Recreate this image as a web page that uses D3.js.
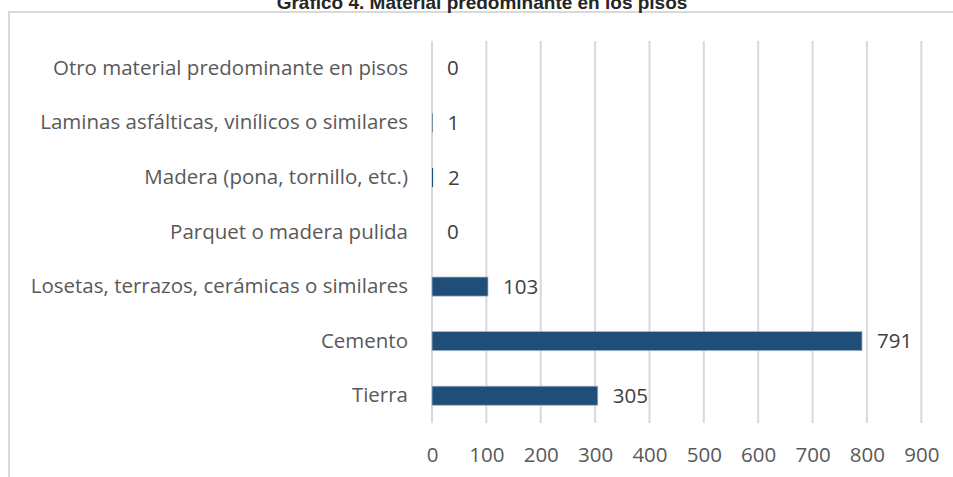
<!DOCTYPE html>
<html>
<head>
<meta charset="utf-8">
<script src="https://cdn.jsdelivr.net/npm/d3@7"></script>
<style>
  body { margin: 0; background: #fff; }
  svg { display: block; }
</style>
</head>
<body>
<div id="chart"></div>
<script>
// data, bottom to top
const categories = [
  "Tierra",
  "Cemento",
  "Losetas, terrazos, cerámicas o similares",
  "Parquet o madera pulida",
  "Madera (pona, tornillo, etc.)",
  "Laminas asfálticas, vinílicos o similares",
  "Otro material predominante en pisos"
];
const values = [305, 791, 103, 0, 2, 1, 0];
const xTicks = [0, 100, 200, 300, 400, 500, 600, 700, 800, 900];
const title = "Gráfico 4. Material predominante en los pisos";

const width = 953, height = 477;
const font = "'Open Sans', sans-serif";
const fs = 20.5;

const svg = d3.select("#chart").append("svg")
    .attr("width", width)
    .attr("height", height);

// chart frame (runs off the right and bottom edges)
svg.append("rect")
    .attr("x", 9).attr("y", 12)
    .attr("width", 960).attr("height", 480)
    .attr("fill", "none")
    .attr("stroke", "#d9d9d9")
    .attr("stroke-width", 2);

svg.append("text")
    .attr("x", 482).attr("y", 9)
    .attr("text-anchor", "middle")
    .attr("font-family", "'Liberation Sans', Arial, sans-serif")
    .attr("font-weight", "bold")
    .attr("font-size", 19)
    .attr("fill", "#262626")
    .text(title);

const x = d3.scaleLinear().domain([0, 900]).range([432, 921.3]);
const y = d3.scaleBand()
    .domain(categories)
    .range([423, 41])
    .paddingInner(0.65)
    .paddingOuter(0.325);

// gridlines
svg.append("g")
    .selectAll("line")
    .data(xTicks)
    .join("line")
    .attr("x1", d => x(d)).attr("x2", d => x(d))
    .attr("y1", 41).attr("y2", 423)
    .attr("stroke", "#d9d9d9")
    .attr("stroke-width", 2);

// x axis tick labels
const xAxis = d3.axisBottom(x).tickValues(xTicks).tickSize(0).tickPadding(0);
svg.append("g")
    .attr("transform", "translate(0,455)")
    .call(xAxis)
    .call(g => g.select(".domain").remove())
    .call(g => g.selectAll("text")
        .attr("dy", "0.35em")
        .attr("font-family", font)
        .attr("font-size", fs)
        .attr("fill", "#595959"));

// category labels
const yAxis = d3.axisLeft(y).tickSize(0).tickPadding(0);
svg.append("g")
    .attr("transform", "translate(408,0)")
    .call(yAxis)
    .call(g => g.select(".domain").remove())
    .call(g => g.selectAll("text")
        .attr("font-family", font)
        .attr("font-size", fs)
        .attr("fill", "#595959"));

// bars
const rows = categories.map((c, i) => ({ name: c, value: values[i] }));
svg.append("g")
    .selectAll("rect")
    .data(rows)
    .join("rect")
    .attr("x", x(0))
    .attr("y", d => y(d.name))
    .attr("width", d => x(d.value) - x(0))
    .attr("height", y.bandwidth())
    .attr("fill", "#1f4e79")
    .attr("stroke", d => x(d.value) - x(0) > 3 ? "#adb9ca" : "none")
    .attr("stroke-width", 0.75);

// value labels
svg.append("g")
    .selectAll("text")
    .data(rows)
    .join("text")
    .attr("x", d => x(d.value) + 15)
    .attr("y", d => y(d.name) + y.bandwidth() / 2)
    .attr("dy", "0.35em")
    .attr("font-family", font)
    .attr("font-size", fs)
    .attr("fill", "#404040")
    .text(d => d.value);
</script>
</body>
</html>
